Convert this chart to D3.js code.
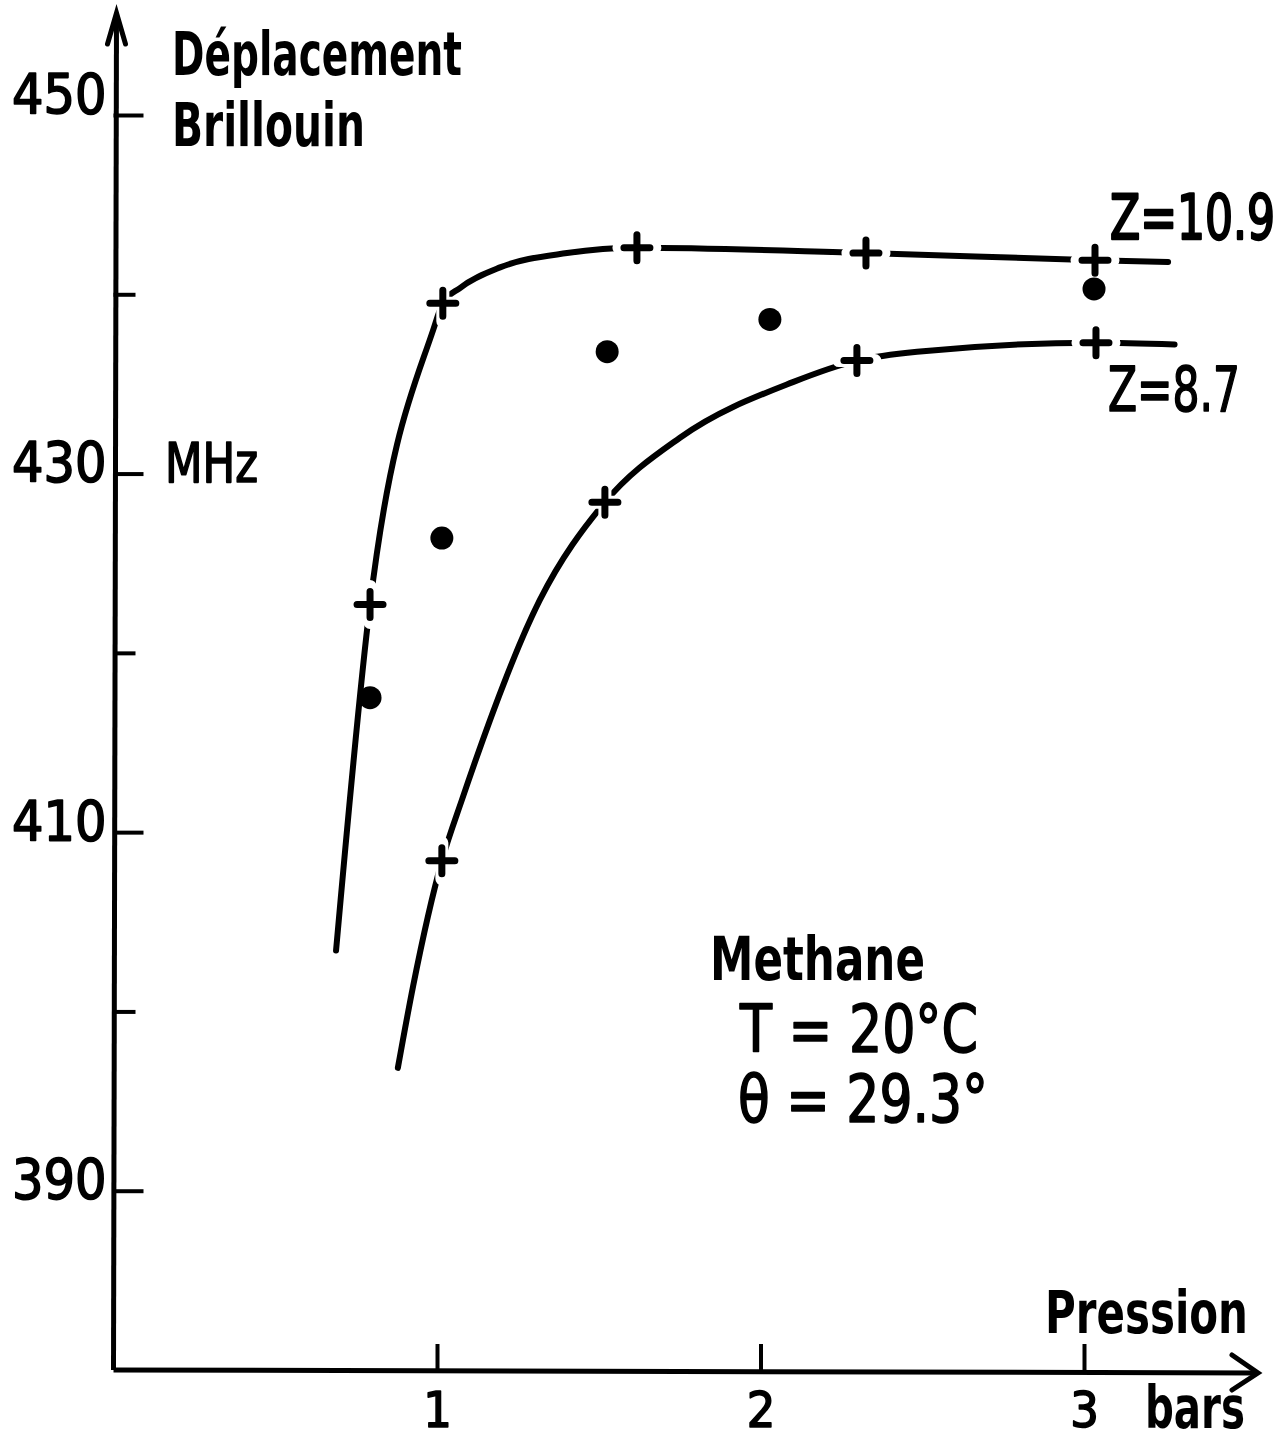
<!DOCTYPE html>
<html>
<head>
<meta charset="utf-8">
<script src="https://cdn.jsdelivr.net/npm/d3@7"></script>
<style>
  html, body { margin: 0; padding: 0; background: #fff; }
  svg { display: block; }
  text { fill: #000; font-family: "DejaVu Sans Condensed", "DejaVu Sans", sans-serif; }
  text.thick { stroke: #000; stroke-width: 1.6px; stroke-linejoin: round; }
</style>
</head>
<body>
<svg id="chart" width="1283" height="1442"></svg>
<script>
// Brillouin shift of methane versus pressure, T = 20 °C, θ = 29.3°

// pressure ticks (bars) and frequency ticks (MHz)
const xTicks = [1, 2, 3];
const yMajorTicks = [390, 410, 430, 450];
const yMinorTicks = [400, 420, 440];

// measured points, curve Z = 10.9 (crosses): [pressure bar, shift MHz]
const crossesZ109 = [[0.793, 422.7], [1.018, 439.5], [1.618, 442.6], [2.326, 442.3], [3.034, 441.9]];
// measured points, curve Z = 8.7 (crosses)
const crossesZ87 = [[1.015, 408.4], [1.519, 428.4], [2.298, 436.3], [3.037, 437.3]];
// experimental points (filled dots)
const dots = [[0.793, 417.5], [1.015, 426.4], [1.526, 436.8], [2.029, 438.6], [3.031, 440.3]];

// hand-drawn fitted curves: knots along each curve
const curveZ109 = [[0.688, 403.4], [0.793, 422.7], [0.988, 438.0], [1.018, 439.5],
  [1.071, 440.35], [1.195, 441.5], [1.402, 442.3], [1.618, 442.6], [2.326, 442.3], [3.034, 441.9], [3.26, 441.8]];
const curveZ87 = [[0.879, 396.85], [0.926, 401.4], [1.015, 408.4], [1.077, 411.8], [1.318, 422.95],
  [1.519, 428.4], [1.751, 432.0], [2.100, 435.1], [2.298, 436.3],
  [2.484, 436.8], [3.037, 437.3], [3.28, 437.2]];

const svg = d3.select("#chart");

const x = d3.scaleLinear().domain([0, 3]).range([113.5, 1084]);
const y = d3.scaleLinear().domain([380, 450]).range([1370, 115]);

const x0 = x(0), y0 = y(380);

// ---- axes ----
const axisG = svg.append("g");

// vertical axis line with open arrow head
axisG.append("path")
  .attr("d", `M${x0},${y0} L${x0 + 3},13`)
  .attr("stroke", "#000").attr("stroke-width", 5).attr("fill", "none");
axisG.append("path")
  .attr("d", `M${x0 - 6},44 L${x0 + 3},13 L${x0 + 12},44`)
  .attr("stroke", "#000").attr("stroke-width", 5).attr("fill", "none")
  .attr("stroke-linejoin", "miter").attr("stroke-linecap", "round");

// horizontal axis line with open arrow head
axisG.append("path")
  .attr("d", `M${x0},${y0} L1258,${y0 + 3}`)
  .attr("stroke", "#000").attr("stroke-width", 5).attr("fill", "none");
axisG.append("path")
  .attr("d", `M1232,${y0 - 15} L1258,${y0 + 3} L1232,${y0 + 20}`)
  .attr("stroke", "#000").attr("stroke-width", 5).attr("fill", "none")
  .attr("stroke-linecap", "round");

// y major ticks with labels
const yAxisMajor = d3.axisLeft(y).tickValues(yMajorTicks).tickSizeInner(-30).tickSizeOuter(0).tickPadding(7)
  .tickFormat(d3.format("d"));
const gYMaj = svg.append("g").attr("transform", `translate(${x0},0)`).call(yAxisMajor);
gYMaj.select(".domain").remove();
gYMaj.selectAll(".tick line").attr("stroke", "#000").attr("stroke-width", 4);
gYMaj.selectAll(".tick text")
  .attr("class", "thick")
  .attr("font-size", 55)
  .attr("dy", d => (d === 450 ? -3 : 7) + "px")
  .attr("fill", "#000");

// y minor ticks
const yAxisMinor = d3.axisLeft(y).tickValues(yMinorTicks).tickSizeInner(-22).tickSizeOuter(0).tickFormat("");
const gYMin = svg.append("g").attr("transform", `translate(${x0},0)`).call(yAxisMinor);
gYMin.select(".domain").remove();
gYMin.selectAll(".tick line").attr("stroke", "#000").attr("stroke-width", 4);

// x ticks with labels
const xAxis = d3.axisBottom(x).tickValues(xTicks).tickSizeInner(-26).tickSizeOuter(0).tickPadding(0)
  .tickFormat(d3.format("d"));
const gX = svg.append("g").attr("transform", `translate(0,${y0})`).call(xAxis);
gX.select(".domain").remove();
gX.selectAll(".tick line").attr("stroke", "#000").attr("stroke-width", 4);
gX.selectAll(".tick text")
  .attr("class", "thick")
  .attr("y", 57).attr("dy", 0)
  .attr("font-size", 50).attr("fill", "#000");

// ---- fitted curves ----
const line = d3.line()
  .x(d => x(d[0]))
  .y(d => y(d[1]))
  .curve(d3.curveMonotoneX);

svg.append("g").selectAll("path.fit")
  .data([curveZ109, curveZ87])
  .join("path")
  .attr("class", "fit")
  .attr("d", line)
  .attr("fill", "none")
  .attr("stroke", "#000")
  .attr("stroke-width", 6)
  .attr("stroke-linecap", "round");

// ---- crosses (white halo breaks the curve around each cross) ----
const crosses = crossesZ109.concat(crossesZ87);
const crossG = svg.append("g");
crossG.selectAll("path.halo")
  .data(crosses)
  .join("path")
  .attr("class", "halo")
  .attr("transform", d => `translate(${x(d[0])},${y(d[1])})`)
  .attr("d", "M-18,0H18M0,-18V18")
  .attr("stroke", "#fff").attr("stroke-width", 13).attr("stroke-linecap", "round");
crossG.selectAll("path.cross")
  .data(crosses)
  .join("path")
  .attr("class", "cross")
  .attr("transform", d => `translate(${x(d[0])},${y(d[1])})`)
  .attr("d", "M-13,0H13M0,-13V13")
  .attr("stroke", "#000").attr("stroke-width", 7).attr("stroke-linecap", "round");

// ---- filled dots ----
svg.append("g").selectAll("circle")
  .data(dots)
  .join("circle")
  .attr("cx", d => x(d[0]))
  .attr("cy", d => y(d[1]))
  .attr("r", 11.5)
  .attr("fill", "#000");

// ---- labels ----
// narrow lettering: optional vertical stretch k keeps the glyphs tall but narrow
function label(txt, px, py, size, width, bold, anchor, k) {
  k = k || 1;
  const t = svg.append("text")
    .attr("x", 0).attr("y", 0)
    .attr("transform", `translate(${px},${py}) scale(1,${k})`)
    .attr("font-size", size / k)
    .attr("font-weight", bold ? "bold" : "normal")
    .attr("text-anchor", anchor || "start")
    .text(txt);
  if (!bold) t.attr("class", "thick");
  if (width) t.attr("textLength", width).attr("lengthAdjust", "spacingAndGlyphs");
  return t;
}

label("Déplacement", 172, 75, 60, 290, true);
label("Brillouin", 172, 146, 60, 193, true);
label("MHz", 165, 482, 56, 93, false);
label("Pression", 1248, 1333, 58, 203, true, "end", 1.5);
label("bars", 1245, 1428, 58, 100, true, "end");
label("Z=10.9", 1275, 239, 63, 165, false, "end", 1.5);
label("Z=8.7", 1240, 411, 63, 132, false, "end");
label("Methane", 710, 980, 60, 215, true);
label("T = 20°C", 740, 1052, 66, 238, false);
label("θ = 29.3°", 738, 1122, 66, 250, false);
</script>
</body>
</html>
